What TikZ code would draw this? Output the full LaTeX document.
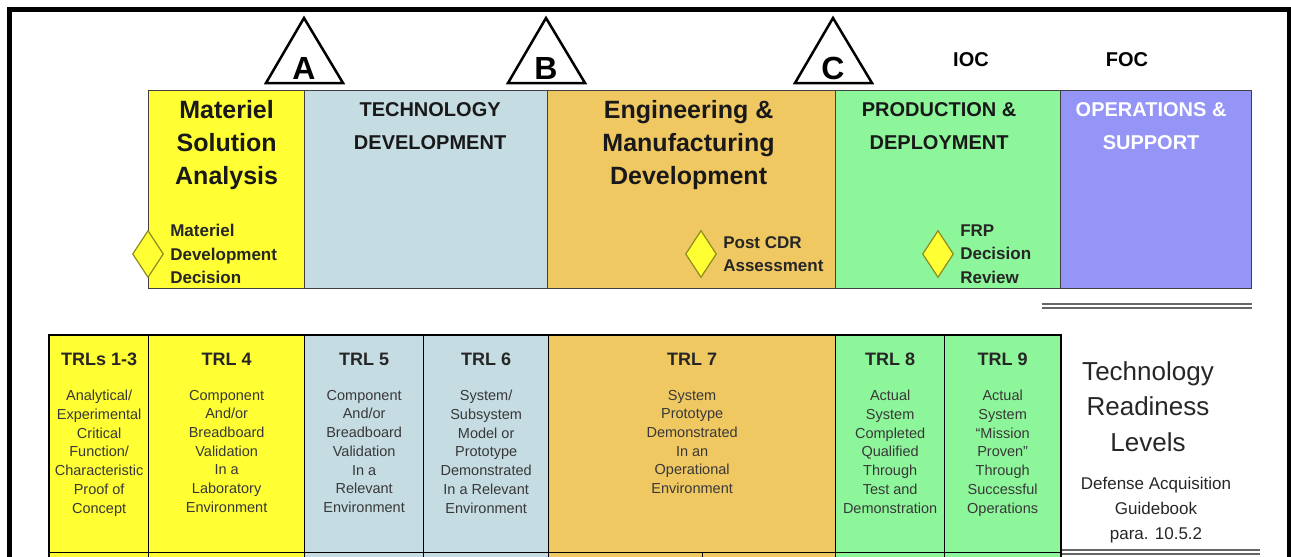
\documentclass[tikz,border=0pt]{standalone}
\usepackage{fontspec}
\setmainfont{Liberation Sans}
\usepackage{tikz}
\usetikzlibrary{positioning}
\usetikzlibrary{shapes.geometric}

\definecolor{msayellow}{HTML}{FFFF33}
\definecolor{tdblue}{HTML}{C5DCE3}
\definecolor{emdorange}{HTML}{F0C862}
\definecolor{pdgreen}{HTML}{8DF59A}
\definecolor{ospurple}{HTML}{9595F7}
\definecolor{mileedge}{HTML}{8C8C1E}
\definecolor{desctext}{HTML}{383838}

\tikzstyle{phase} = [draw=black!75, line width=1.2pt, anchor=north west, inner sep=0pt, minimum height=198pt]
\tikzstyle{phasetitle} = [anchor=north, align=center, inner sep=0pt, text=black!90, font=\bfseries\fontsize{25}{33}\selectfont]
\tikzstyle{phasecaps} = [anchor=north, align=center, inner sep=0pt, text=black!90, font=\bfseries\fontsize{20}{33}\selectfont]
\tikzstyle{gate} = [draw=black, line width=2.5pt, fill=white, line join=miter]
\tikzstyle{gateletter} = [anchor=base, inner sep=0pt, font=\bfseries\fontsize{32}{32}\selectfont]
\tikzstyle{gatecaps} = [inner sep=0pt, font=\bfseries\fontsize{20}{20}\selectfont]
\tikzstyle{milestone} = [diamond, draw=mileedge, line width=1.2pt, fill=msayellow, minimum width=31pt, minimum height=47pt, inner sep=0pt]
\tikzstyle{milelabel} = [align=left, inner sep=0pt, text=black!85, font=\bfseries\fontsize{17}{23.5}\selectfont]
\tikzstyle{trlcell} = [draw=black, line width=1.3pt, anchor=north west, inner sep=0pt]
\tikzstyle{trlhead} = [anchor=north, inner sep=0pt, text=black!85, font=\bfseries\fontsize{18}{18}\selectfont]
\tikzstyle{trldesc} = [anchor=north, align=center, inner sep=0pt, text=desctext, font=\fontsize{14.5}{18.7}\selectfont]
\tikzstyle{rule} = [draw=black!60, line width=1.8pt, double=white, double distance=1.6pt]

\begin{document}
\begin{tikzpicture}[x=1pt,y=-1pt]
\useasboundingbox (0,0) rectangle (1291,557);
\clip (0,0) rectangle (1291,557);

%Frame
\draw[line width=5pt] (9.5,620) |- (1289,9.5) -- (1289,620);

%Phases
\node[phase, fill=msayellow, minimum width=156pt] (msa) at (148,90) {};
\node[phase, fill=tdblue, minimum width=243pt] (td) at (304,90) {};
\node[phase, fill=emdorange, minimum width=288pt] (emd) at (547,90) {};
\node[phase, fill=pdgreen, minimum width=225pt] (pd) at (835,90) {};
\node[phase, fill=ospurple, minimum width=191pt] (os) at (1060,90) {};

\node[phasetitle, below=10pt of msa.north] (msatitle) {Materiel\\Solution\\Analysis};
\node[phasecaps, below=12pt of td.north, xshift=4pt] (tdtitle) {TECHNOLOGY\\DEVELOPMENT};
\node[phasetitle, below=10pt of emd.north, xshift=-3pt] (emdtitle) {Engineering \&\\Manufacturing\\Development};
\node[phasecaps, below=12pt of pd.north, xshift=-9pt] (pdtitle) {PRODUCTION \&\\DEPLOYMENT};
\node[phasecaps, below=12pt of os.north, xshift=-5pt, text=white] (ostitle) {OPERATIONS \&\\SUPPORT};

%Milestones
\draw[gate] (266,83) -- (304,18) -- (343,83) -- cycle;
\node[gateletter] (gateA) at (304,79) {A};
\draw[gate] (508,83) -- (546,18) -- (585,83) -- cycle;
\node[gateletter] (gateB) at (546,79) {B};
\draw[gate] (795,83) -- (833,18) -- (872,83) -- cycle;
\node[gateletter] (gateC) at (833,79) {C};
\node[gatecaps] (ioc) at (971,60) {IOC};
\node[gatecaps] (foc) at (1127,60) {FOC};

\node[milestone] (mdd) at (148,254) {};
\node[milelabel, right=6pt of mdd] (mddlabel) {Materiel\\Development\\Decision};
\node[milestone] (cdr) at (701,254) {};
\node[milelabel, right=6pt of cdr] (cdrlabel) {Post CDR\\Assessment};
\node[milestone] (frp) at (938,254) {};
\node[milelabel, right=6pt of frp] (frplabel) {FRP\\Decision\\Review};

%Rules
\draw[rule] (1042,306) -- (1252,306);
\draw[rule] (1060,552) -- (1260,552);

%TRL table
\node[trlcell, fill=msayellow, minimum width=99pt, minimum height=217pt] (trl13) at (49,335) {};
\node[trlcell, fill=msayellow, minimum width=156pt, minimum height=217pt] (trl4) at (148,335) {};
\node[trlcell, fill=tdblue, minimum width=119pt, minimum height=217pt] (trl5) at (304,335) {};
\node[trlcell, fill=tdblue, minimum width=125pt, minimum height=217pt] (trl6) at (423,335) {};
\node[trlcell, fill=emdorange, minimum width=287pt, minimum height=217pt] (trl7) at (548,335) {};
\node[trlcell, fill=pdgreen, minimum width=109pt, minimum height=217pt] (trl8) at (835,335) {};
\node[trlcell, fill=pdgreen, minimum width=116pt, minimum height=217pt] (trl9) at (944,335) {};

\node[trlcell, fill=msayellow, minimum width=99pt, minimum height=40pt] (low13) at (49,552) {};
\node[trlcell, fill=msayellow, minimum width=156pt, minimum height=40pt] (low4) at (148,552) {};
\node[trlcell, fill=tdblue, minimum width=119pt, minimum height=40pt] (low5) at (304,552) {};
\node[trlcell, fill=tdblue, minimum width=125pt, minimum height=40pt] (low6) at (423,552) {};
\node[trlcell, fill=emdorange, minimum width=154pt, minimum height=40pt] (low7a) at (548,552) {};
\node[trlcell, fill=emdorange, minimum width=133pt, minimum height=40pt] (low7b) at (702,552) {};
\node[trlcell, fill=pdgreen, minimum width=109pt, minimum height=40pt] (low8) at (835,552) {};
\node[trlcell, fill=pdgreen, minimum width=116pt, minimum height=40pt] (low9) at (944,552) {};

\draw[line width=2.2pt] (low13.south west) |- (trl9.north east) -- (low9.south east);

\node[trlhead, below=18pt of trl13.north] (h13) {TRLs 1-3};
\node[trldesc, below=24pt of h13] (d13) {Analytical/\\Experimental\\Critical\\Function/\\Characteristic\\Proof of\\Concept};
\node[trlhead, below=18pt of trl4.north] (h4) {TRL 4};
\node[trldesc, below=24pt of h4] (d4) {Component\\And/or\\Breadboard\\Validation\\In a\\Laboratory\\Environment};
\node[trlhead, below=18pt of trl5.north] (h5) {TRL 5};
\node[trldesc, below=24pt of h5] (d5) {Component\\And/or\\Breadboard\\Validation\\In a\\Relevant\\Environment};
\node[trlhead, below=18pt of trl6.north] (h6) {TRL 6};
\node[trldesc, below=24pt of h6] (d6) {System/\\Subsystem\\Model or\\Prototype\\Demonstrated\\In a Relevant\\Environment};
\node[trlhead, below=18pt of trl7.north] (h7) {TRL 7};
\node[trldesc, below=24pt of h7] (d7) {System\\Prototype\\Demonstrated\\In an\\Operational\\Environment};
\node[trlhead, below=18pt of trl8.north] (h8) {TRL 8};
\node[trldesc, below=24pt of h8] (d8) {Actual\\System\\Completed\\Qualified\\Through\\Test and\\Demonstration};
\node[trlhead, below=18pt of trl9.north] (h9) {TRL 9};
\node[trldesc, below=24pt of h9] (d9) {Actual\\System\\“Mission\\Proven”\\Through\\Successful\\Operations};

%Legend
\node[anchor=north, align=center, inner sep=0pt, text=black!85, font=\fontsize{26}{35.5}\selectfont] (trltitle) at (1148,361) {Technology\\Readiness\\Levels};
\node[below=25pt of trltitle, xshift=8pt, align=center, inner sep=0pt, text=black!85, font=\fontsize{17}{25}\selectfont] (guide) {Defense Acquisition\\Guidebook\\para. 10.5.2};

\end{tikzpicture}
\end{document}
